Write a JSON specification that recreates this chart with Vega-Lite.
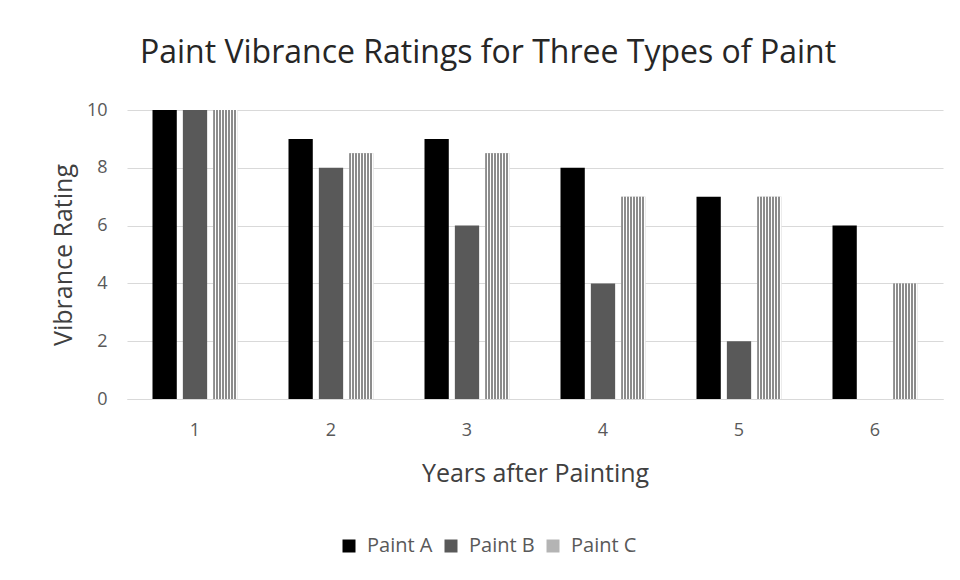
{
  "$schema": "https://vega.github.io/schema/vega-lite/v6.json",
  "autosize": {"type": "none"},
  "width": 816,
  "height": 289,
  "padding": {"left": 127, "top": 110, "right": 17, "bottom": 181},
  "background": "white",
  "title": {
    "text": "Paint Vibrance Ratings for Three Types of Paint",
    "font": "Open Sans",
    "fontSize": 32,
    "fontWeight": "normal",
    "color": "#262626",
    "anchor": "middle",
    "dx": -47,
    "offset": 31
  },
  "data": {
    "values": [
      {"year": "1", "series": "Paint A", "rating": 10},
      {"year": "1", "series": "Paint B", "rating": 10},
      {"year": "1", "series": "Paint C", "rating": 10},
      {"year": "2", "series": "Paint A", "rating": 9},
      {"year": "2", "series": "Paint B", "rating": 8},
      {"year": "2", "series": "Paint C", "rating": 8.5},
      {"year": "3", "series": "Paint A", "rating": 9},
      {"year": "3", "series": "Paint B", "rating": 6},
      {"year": "3", "series": "Paint C", "rating": 8.5},
      {"year": "4", "series": "Paint A", "rating": 8},
      {"year": "4", "series": "Paint B", "rating": 4},
      {"year": "4", "series": "Paint C", "rating": 7},
      {"year": "5", "series": "Paint A", "rating": 7},
      {"year": "5", "series": "Paint B", "rating": 2},
      {"year": "5", "series": "Paint C", "rating": 7},
      {"year": "6", "series": "Paint A", "rating": 6},
      {"year": "6", "series": "Paint B", "rating": 0},
      {"year": "6", "series": "Paint C", "rating": 4}
    ]
  },
  "encoding": {
    "x": {
      "field": "year",
      "type": "nominal",
      "scale": {"paddingInner": 0.375, "paddingOuter": 0.1875},
      "axis": {
        "title": "Years after Painting",
        "labelAngle": 0,
        "labelFont": "Open Sans",
        "labelFontSize": 18,
        "labelColor": "#595959",
        "labelPadding": 22,
        "ticks": false,
        "domainColor": "#d9d9d9",
        "domainWidth": 1,
        "titleFont": "Open Sans",
        "titleFontSize": 25,
        "titleFontWeight": "normal",
        "titleColor": "#404040",
        "titlePadding": 22
      }
    },
    "xOffset": {
      "field": "series",
      "type": "nominal",
      "scale": {"domain": ["Paint A", "Paint B", "Paint C"], "paddingInner": 0.2, "paddingOuter": 0}
    },
    "y": {
      "field": "rating",
      "type": "quantitative",
      "scale": {"domain": [0, 10]},
      "axis": {
        "title": "Vibrance Rating",
        "values": [0, 2, 4, 6, 8, 10],
        "labelFont": "Open Sans",
        "labelFontSize": 18,
        "labelColor": "#595959",
        "labelPadding": 20,
        "ticks": false,
        "domain": false,
        "gridColor": "#d9d9d9",
        "gridWidth": 1,
        "titleFont": "Open Sans",
        "titleFontSize": 25,
        "titleFontWeight": "normal",
        "titleColor": "#404040",
        "titlePadding": 10
      }
    }
  },
  "layer": [
    {
      "mark": {"type": "bar"},
      "encoding": {
        "color": {
          "field": "series",
          "type": "nominal",
          "scale": {"domain": ["Paint A", "Paint B", "Paint C"], "range": ["#000000", "#595959", "#b4b4b4"]},
          "legend": {
            "title": null,
            "orient": "none",
            "direction": "horizontal",
            "legendX": 212,
            "legendY": 426,
            "symbolType": "square",
            "symbolSize": 169,
            "symbolStrokeWidth": 0,
            "labelFont": "Open Sans",
            "labelFontSize": 20,
            "labelColor": "#595959",
            "labelOffset": 8,
            "columnPadding": 8
          }
        }
      }
    },
    {
      "transform": [{"filter": "datum.series === 'Paint C'"}],
      "mark": {
        "type": "bar",
        "fill": {
          "gradient": "linear",
          "x1": 0, "y1": 0, "x2": 1, "y2": 0,
          "stops": [
            {"offset": 0, "color": "#8c8c8c"}, {"offset": 0.0625, "color": "#8c8c8c"}, {"offset": 0.0625, "color": "#ffffff"}, {"offset": 0.125, "color": "#ffffff"},
            {"offset": 0.125, "color": "#8c8c8c"}, {"offset": 0.1875, "color": "#8c8c8c"}, {"offset": 0.1875, "color": "#ffffff"}, {"offset": 0.25, "color": "#ffffff"},
            {"offset": 0.25, "color": "#8c8c8c"}, {"offset": 0.3125, "color": "#8c8c8c"}, {"offset": 0.3125, "color": "#ffffff"}, {"offset": 0.375, "color": "#ffffff"},
            {"offset": 0.375, "color": "#8c8c8c"}, {"offset": 0.4375, "color": "#8c8c8c"}, {"offset": 0.4375, "color": "#ffffff"}, {"offset": 0.5, "color": "#ffffff"},
            {"offset": 0.5, "color": "#8c8c8c"}, {"offset": 0.5625, "color": "#8c8c8c"}, {"offset": 0.5625, "color": "#ffffff"}, {"offset": 0.625, "color": "#ffffff"},
            {"offset": 0.625, "color": "#8c8c8c"}, {"offset": 0.6875, "color": "#8c8c8c"}, {"offset": 0.6875, "color": "#ffffff"}, {"offset": 0.75, "color": "#ffffff"},
            {"offset": 0.75, "color": "#8c8c8c"}, {"offset": 0.8125, "color": "#8c8c8c"}, {"offset": 0.8125, "color": "#ffffff"}, {"offset": 0.875, "color": "#ffffff"},
            {"offset": 0.875, "color": "#8c8c8c"}, {"offset": 0.9375, "color": "#8c8c8c"}, {"offset": 0.9375, "color": "#ffffff"}, {"offset": 1, "color": "#ffffff"}
          ]
        }
      }
    }
  ],
  "config": {
    "view": {"stroke": null},
    "font": "Open Sans"
  }
}
